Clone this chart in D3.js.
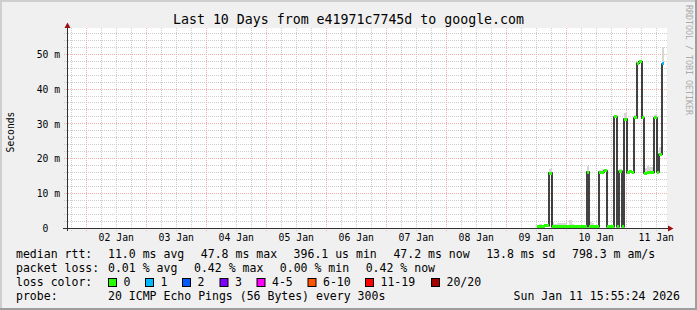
<!DOCTYPE html>
<html>
<head>
<meta charset="utf-8">
<script src="https://cdn.jsdelivr.net/npm/d3@7"></script>
<style>
  body { margin: 0; background: #f0f0f0; }
  text { font-family: "DejaVu Sans Mono", monospace; }
</style>
</head>
<body>
<svg id="chart" width="697" height="310"></svg>
<script>
// graph window (10 days) and hourly bins
var startTime = new Date(Date.UTC(2026, 0, 1, 16, 30));
var endTime = new Date(Date.UTC(2026, 0, 11, 16, 30));
var firstBin = new Date(Date.UTC(2026, 0, 9, 12, 18));

// median rtt per hour (ms)
var median = [0.45, 0.45, 0.5, 0.8, 0.8, 15.9,
  0.52, 0.48, 0.5, 0.47, 0.51, 0.5, 0.49, 0.5, 0.48, 0.52, 0.5, 0.47, 0.5, 0.49,
  16.2, 0.5, 0.48, 0.5, 0.5, 16.2, 16.2, 16.5, 0.5, 0.5, 0.5,
  32.0, 0.5, 16.4, 0.5, 31.4, 16.0, 16.3, 16.1, 31.7, 47.4, 47.8, 31.7,
  15.9, 16.0, 16.1, 16.1, 31.7, 16.2, 21.3, 47.2];
// top of the smoke per hour (ms)
var smokeHi = [1.0, 1.2, 0.8, 1.0, 1.1, 17.2,
  1.9, 1.2, 1.6, 1.7, 1.7, 1.6, 1.1, 2.4, 1.2, 0.9, 1.0, 0.8, 0.7, 0.8,
  18.0, 1.9, 1.6, 1.0, 0.8, 16.9, 17.0, 17.0, 0.8, 0.7, 0.8,
  32.3, 1.5, 17.0, 0.8, 33.0, 16.4, 16.5, 16.6, 32.7, 47.6, 48.0, 32.6,
  17.4, 17.8, 17.6, 17.6, 32.5, 16.6, 23.3, 52.1];
// lost pings per hour (index into loss colors)
var lossIdx = [0, 0, 0, 0, 0, 0, 0, 0, 0, 0, 0, 0, 0, 0, 0, 0, 0, 0, 0, 0,
  0, 0, 0, 0, 0, 0, 0, 0, 0, 0, 0, 0, 0, 0, 0, 0, 0, 0, 0, 0,
  0, 0, 0, 0, 0, 0, 0, 0, 0, 0, 1];

var lossLabels = ["0", "1", "2", "3", "4-5", "6-10", "11-19", "20/20"];
var lossColors = ["#26ff00", "#00b8ff", "#0059ff", "#7e00ff", "#ff00ff", "#ff5500", "#ff0000", "#a10000"];
var yTicks = [0, 10, 20, 30, 40, 50];

var titleText = "Last 10 Days from e41971c7745d to google.com";
var rttRow = [["median rtt:", 16], ["11.0 ms avg", 108], ["47.8 ms max", 200.8], ["396.1 us min", 293.6],
  ["47.2 ms now", 393.4], ["13.8 ms sd", 486.2], ["798.3 m am/s", 572]];
var lossRow = [["packet loss:", 16], ["0.01 % avg", 108], ["0.42 % max", 194], ["0.00 % min", 279.8], ["0.42 % now", 365.7]];
var swatchX = [108, 145, 182, 219.5, 256.5, 307.5, 365, 431];
var probeText = "20 ICMP Echo Pings (56 Bytes) every 300s";
var stampText = "Sun Jan 11 15:55:24 2026";

var svg = d3.select("#chart");

// background and frame
svg.append("rect").attr("width", 697).attr("height", 310).attr("fill", "#f0f0f0");
svg.append("rect").attr("x", 0).attr("y", 0).attr("width", 697).attr("height", 2).attr("fill", "#cfcfcf");
svg.append("rect").attr("x", 0).attr("y", 0).attr("width", 2).attr("height", 310).attr("fill", "#cfcfcf");
svg.append("rect").attr("x", 0).attr("y", 308).attr("width", 697).attr("height", 2).attr("fill", "#9e9e9e");
svg.append("rect").attr("x", 695).attr("y", 0).attr("width", 2).attr("height", 310).attr("fill", "#9e9e9e");

var x = d3.scaleUtc().domain([startTime, endTime]).range([67, 667]);
var y = d3.scaleLinear().domain([0, 57.37]).range([228.5, 28.5]);

svg.append("rect").attr("x", 67).attr("y", 28).attr("width", 600).attr("height", 201).attr("fill", "#ffffff");

// grid
var grid = svg.append("g").attr("shape-rendering", "crispEdges").attr("stroke-dasharray", "1,1");
var px = function (t) { return Math.round(x(t)) + 0.5; };
var py = function (v) { return Math.round(y(v) - 0.5) + 0.5; };

d3.utcHour.every(6).range(startTime, endTime).forEach(function (t) {
  if (t.getUTCHours() === 0) return;
  grid.append("line").attr("x1", px(t)).attr("x2", px(t)).attr("y1", 28).attr("y2", 231)
    .attr("stroke", "#cdcdcd");
});
y.ticks(30).forEach(function (v) {
  if (v % 10 === 0) return;
  grid.append("line").attr("x1", 64).attr("x2", 667).attr("y1", py(v)).attr("y2", py(v))
    .attr("stroke", "#cdcdcd");
});
d3.utcDay.range(startTime, endTime).forEach(function (t) {
  grid.append("line").attr("x1", px(t)).attr("x2", px(t)).attr("y1", 28).attr("y2", 231)
    .attr("stroke", "#f2b0b0");
});
yTicks.forEach(function (v) {
  if (v === 0) return;
  grid.append("line").attr("x1", 64).attr("x2", 667).attr("y1", py(v)).attr("y2", py(v))
    .attr("stroke", "#f2b0b0");
});

// data bins
var bins = median.map(function (m, i) {
  return {
    t0: d3.utcHour.offset(firstBin, i),
    t1: d3.utcHour.offset(firstBin, i + 1),
    median: m, hi: smokeHi[i], loss: lossIdx[i]
  };
});

// smoke
svg.append("g").attr("shape-rendering", "crispEdges")
  .selectAll("rect").data(bins).enter().append("rect")
  .attr("x", function (d) { return Math.round(x(d.t0)); })
  .attr("width", function (d) { return Math.round(x(d.t1)) - Math.round(x(d.t0)); })
  .attr("y", function (d) { return y(d.hi); })
  .attr("height", function (d) { return Math.max(0, y(d.median) - y(d.hi)); })
  .attr("fill", "#d6d6d6");

// median step line
var pts = [];
bins.forEach(function (d) {
  pts.push([Math.round(x(d.t0)), y(d.median)]);
  pts.push([Math.round(x(d.t1)), y(d.median)]);
});
svg.append("path")
  .attr("d", d3.line()(pts))
  .attr("fill", "none")
  .attr("stroke", "#151515")
  .attr("stroke-width", 1.6);

// loss colored median marks
svg.append("g").attr("shape-rendering", "crispEdges")
  .selectAll("rect").data(bins).enter().append("rect")
  .attr("x", function (d) { return Math.round(x(d.t0)); })
  .attr("width", function (d) { return Math.round(x(d.t1)) - Math.round(x(d.t0)); })
  .attr("y", function (d) { return y(d.median) - 1.5; })
  .attr("height", 3)
  .attr("fill", function (d) { return lossColors[d.loss]; });

// axes lines and arrows
svg.append("line").attr("x1", 67.5).attr("x2", 67.5).attr("y1", 231).attr("y2", 26)
  .attr("stroke", "#303030").attr("shape-rendering", "crispEdges");
svg.append("line").attr("x1", 63).attr("x2", 669).attr("y1", 228.5).attr("y2", 228.5)
  .attr("stroke", "#303030").attr("shape-rendering", "crispEdges");
svg.append("path").attr("d", "M64.5,28L70.5,28L67.5,22.5Z").attr("fill", "#9b1010");
svg.append("path").attr("d", "M668,225.5L668,231.5L673.5,228.5Z").attr("fill", "#9b1010");

// y tick labels
var yAxis = svg.append("g").attr("transform", "translate(67,0)")
  .call(d3.axisLeft(y).tickValues(yTicks).tickSize(0).tickPadding(7)
    .tickFormat(function (d) { return d === 0 ? "0\u00a0\u00a0" : d + " m"; }));
yAxis.select(".domain").remove();
yAxis.attr("font-family", "DejaVu Sans Mono").attr("font-size", 9.7);
yAxis.selectAll("text").attr("fill", "#000");

// x tick labels at noon
var noons = d3.utcDay.range(d3.utcDay.ceil(startTime), endTime).map(function (d) { return d3.utcHour.offset(d, 12); });
var xAxis = svg.append("g").attr("transform", "translate(0,228)")
  .call(d3.axisBottom(x).tickValues(noons).tickSize(0).tickPadding(6)
    .tickFormat(d3.utcFormat("%d %b")));
xAxis.select(".domain").remove();
xAxis.attr("font-family", "DejaVu Sans Mono").attr("font-size", 9.8);
xAxis.selectAll("text").attr("fill", "#000");

// title, unit, watermark
svg.append("text").attr("x", 348.5).attr("y", 23.5).attr("text-anchor", "middle")
  .style("font-size", "13.26px").text(titleText);
svg.append("text").attr("transform", "translate(14,132) rotate(-90)").attr("text-anchor", "middle")
  .style("font-size", "9.7px").text("Seconds");
svg.append("text").attr("transform", "translate(685.5,5) rotate(90)")
  .style("font-size", "8.3px").attr("fill", "#aaaaaa").text("RRDTOOL / TOBI OETIKER");

// legend
var leg = svg.append("g").style("font-size", "11.53px");
rttRow.forEach(function (p) { leg.append("text").attr("x", p[1]).attr("y", 258.3).text(p[0]); });
lossRow.forEach(function (p) { leg.append("text").attr("x", p[1]).attr("y", 272.3).text(p[0]); });
leg.append("text").attr("x", 16).attr("y", 286.3).text("loss color:");
lossLabels.forEach(function (lab, i) {
  leg.append("rect").attr("x", swatchX[i] + 0.5).attr("y", 278.5).attr("width", 8).attr("height", 8)
    .attr("fill", lossColors[i]).attr("stroke", "#000").attr("stroke-width", 1);
  leg.append("text").attr("x", swatchX[i] + 15.5).attr("y", 286.3).text(lab);
});
leg.append("text").attr("x", 16).attr("y", 300).text("probe:");
leg.append("text").attr("x", 108).attr("y", 300).text(probeText);
leg.append("text").attr("x", 680).attr("y", 300).attr("text-anchor", "end").text(stampText);
</script>
</body>
</html>
